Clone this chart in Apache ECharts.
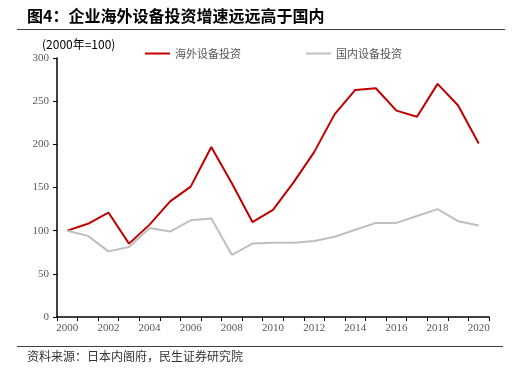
<!DOCTYPE html>
<html><head><meta charset="utf-8">
<script src="https://cdn.jsdelivr.net/npm/echarts@6/dist/echarts.min.js"></script>
<style>html,body{margin:0;padding:0;background:#fff}#c{width:523px;height:378px}</style>
</head><body><div id="c"></div>
<script>
var years = ['2000','2001','2002','2003','2004','2005','2006','2007','2008','2009','2010','2011','2012','2013','2014','2015','2016','2017','2018','2019','2020'];
var overseas = [100,108,121,85,107,134,151,197,155,110,124,156,191,235,263,265,239,232,270,245,201];
var domestic = [100,94,76,81,103,99,112,114,72,85,86,86,88,93,101,109,109,117,125,111,106];
var yTicks = [0,50,100,150,200,250,300];

var chart = echarts.init(document.getElementById('c'));
chart.setOption({
  animation:false,
  backgroundColor:'#fff',
  graphic:[
    {type:'text',left:27,top:8,style:{text:'图4：企业海外设备投资增速远远高于国内',fontSize:16,fontWeight:'bold',fill:'#000',fontFamily:'Noto Sans CJK SC'}},
    {type:'line',shape:{x1:17,y1:29.5,x2:505,y2:29.5},style:{stroke:'#404040',lineWidth:1}},
    {type:'text',left:42,top:38,style:{text:'(2000年=100)',fontSize:12,fill:'#000',fontFamily:'Noto Sans CJK SC'}},
    {type:'line',shape:{x1:17,y1:346.5,x2:503,y2:346.5},style:{stroke:'#404040',lineWidth:1}},
    {type:'text',left:27,top:350,style:{text:'资料来源：日本内阁府，民生证券研究院',fontSize:12,fill:'#333',fontFamily:'Noto Sans CJK SC'}}
  ],
  legend:{
    top:43,left:140,itemWidth:25,itemHeight:2,itemGap:65,icon:'rect',
    textStyle:{fontSize:11,color:'#595959',fontFamily:'Noto Sans CJK SC'},
    data:['海外设备投资','国内设备投资']
  },
  grid:{left:57,right:34,top:58,bottom:61,containLabel:false},
  xAxis:{
    type:'category',data:years,boundaryGap:true,
    axisLine:{lineStyle:{color:'#000',width:1.5}},
    axisTick:{show:true,interval:0,length:4,lineStyle:{color:'#000'}},
    axisLabel:{interval:1,color:'#595959',fontSize:11,fontFamily:'Liberation Serif',margin:6}
  },
  yAxis:{
    type:'value',min:yTicks[0],max:yTicks[yTicks.length-1],interval:50,
    axisLine:{show:true,lineStyle:{color:'#000',width:1.5}},
    axisTick:{show:true,length:4,lineStyle:{color:'#000'}},
    splitLine:{show:false},
    axisLabel:{color:'#595959',fontSize:11,fontFamily:'Liberation Serif',margin:8}
  },
  series:[
    {name:'海外设备投资',type:'line',data:overseas,symbol:'none',lineStyle:{color:'#C00000',width:2},itemStyle:{color:'#C00000'}},
    {name:'国内设备投资',type:'line',data:domestic,symbol:'none',lineStyle:{color:'#BFBFBF',width:2},itemStyle:{color:'#BFBFBF'}}
  ]
});
</script></body></html>
